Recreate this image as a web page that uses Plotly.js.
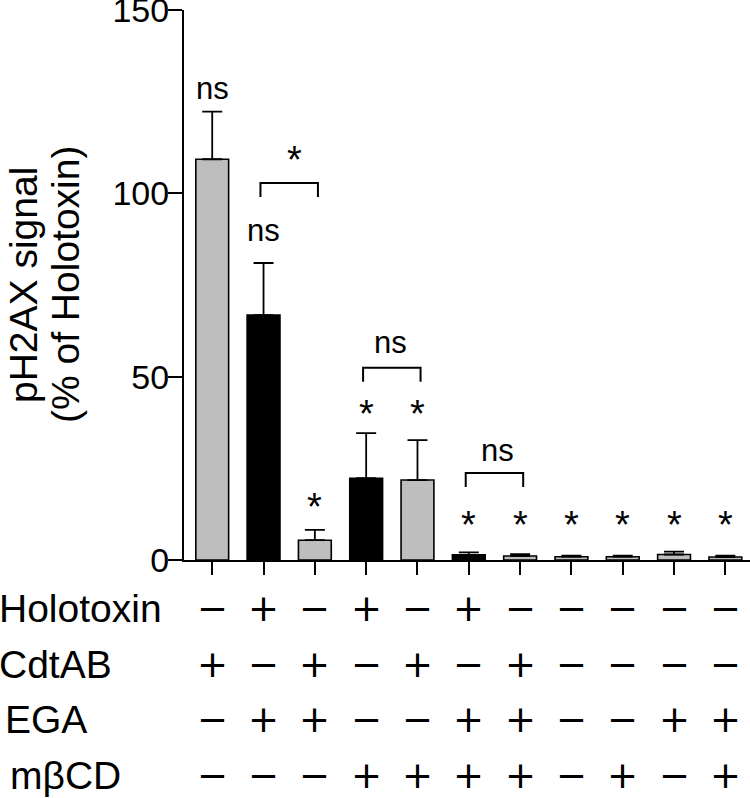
<!DOCTYPE html>
<html>
<head>
<meta charset="utf-8">
<script src="https://cdn.plot.ly/plotly-3.0.1.min.js"></script>
<style>
  html, body { margin: 0; padding: 0; background: #fff; }
  #chart { width: 750px; height: 798px; }
</style>
</head>
<body>
<div id="chart"></div>
<script>
// treatment table under the bars
var rowNames = ['Holotoxin', 'CdtAB', 'EGA', 'mβCD'];
var holotoxin = ['−', '+', '−', '+', '−', '+', '−', '−', '−', '−', '−'];
var cdtab     = ['+', '−', '+', '−', '+', '−', '+', '−', '−', '−', '−'];
var ega       = ['−', '+', '+', '−', '−', '+', '+', '−', '−', '+', '+'];
var mbcd      = ['−', '−', '−', '+', '+', '+', '+', '−', '+', '−', '+'];

// pH2AX signal, % of holotoxin (mean and upper error)
var meanSignal = [109.3, 66.8, 5.4, 22.3, 21.8, 1.4, 1.1, 0.9, 0.9, 1.5, 0.8];
var errSignal  = [13.0, 14.2, 2.8, 12.3, 10.9, 0.7, 0.5, 0.3, 0.3, 0.8, 0.4];

// significance labels
var barLabels  = ['ns', 'ns', '*', '*', '*', '*', '*', '*', '*', '*', '*'];
var pairs      = [[1, 2], [3, 4], [5, 6]];
var pairLabels = ['*', 'ns', 'ns'];

var FONT = '"Liberation Sans", Arial, Helvetica, sans-serif';
var SIGN_FONT = '"DejaVu Sans", sans-serif';
var GRAY = '#bebebe';

var xs = meanSignal.map(function (v, i) { return i; });
var colors = holotoxin.map(function (s) { return s === '+' ? '#000000' : GRAY; });

var trace = {
    type: 'bar',
    x: xs,
    y: meanSignal,
    width: 0.64,
    marker: { color: colors, line: { color: '#000', width: 1.6 } },
    error_y: {
        type: 'data',
        symmetric: false,
        array: errSignal,
        arrayminus: errSignal.map(function () { return 0; }),
        color: '#000',
        thickness: 1.8,
        width: 10
    },
    hoverinfo: 'none'
};

// where the labels sit (data units, y axis)
var barLabelY  = [128.7, 90.0, 16.4, 41.7, 41.7, 11.4, 11.4, 11.4, 11.4, 11.4, 11.4];
var pairTopY   = [102.8, 52.4, 23.7];
var pairLabelY = [111.0, 59.2, 30.0];
var pairLabelX = [1.6, 3.47, 5.55];

var annotations = [];
var shapes = [];

function sigText(text, x, y) {
    var star = text === '*';
    return {
        text: text, x: x, y: y, xref: 'x', yref: 'y',
        showarrow: false, xanchor: 'center', yanchor: 'middle',
        yshift: star ? -7 : 0,
        font: { family: FONT, size: star ? 38 : 31, color: '#000' }
    };
}

barLabels.forEach(function (t, i) {
    annotations.push(sigText(t, i, barLabelY[i]));
});

pairs.forEach(function (p, k) {
    var top = pairTopY[k];
    var leg = top - 3.8;
    shapes.push({
        type: 'path', xref: 'x', yref: 'y',
        path: 'M ' + (p[0] - 0.06) + ',' + leg + ' L ' + (p[0] - 0.06) + ',' + top +
              ' L ' + (p[1] + 0.06) + ',' + top + ' L ' + (p[1] + 0.06) + ',' + leg,
        line: { color: '#000', width: 2 }
    });
    annotations.push(sigText(pairLabels[k], pairLabelX[k], pairLabelY[k]));
});

// y axis title, two lines
annotations.push({
    text: 'pH2AX signal', xref: 'paper', yref: 'paper', x: 0, y: 0.5,
    xshift: -161, textangle: -90, showarrow: false,
    xanchor: 'center', yanchor: 'middle', borderpad: 0,
    font: { family: FONT, size: 39, color: '#000' }
});
annotations.push({
    text: '(% of Holotoxin)', xref: 'paper', yref: 'paper', x: 0, y: 0.5,
    xshift: -119, textangle: -90, showarrow: false,
    xanchor: 'center', yanchor: 'middle', borderpad: 0,
    font: { family: FONT, size: 39, color: '#000' }
});

// treatment table
var rows = [holotoxin, cdtab, ega, mbcd];
var rowShift = [-48, -104, -159, -215];
var nameShift = [-186, -186, -180, -175];
rows.forEach(function (row, r) {
    annotations.push({
        text: rowNames[r], xref: 'paper', yref: 'paper', x: 0, y: 0,
        xshift: nameShift[r], yshift: rowShift[r], showarrow: false,
        xanchor: 'left', yanchor: 'middle', borderpad: 0,
        font: { family: FONT, size: 39, color: '#000' }
    });
    row.forEach(function (s, i) {
        annotations.push({
            text: s, xref: 'x', yref: 'paper', x: i, y: 0,
            yshift: rowShift[r], showarrow: false,
            xanchor: 'center', yanchor: 'middle', borderpad: 0,
            font: { family: SIGN_FONT, size: 37, color: '#000' }
        });
    });
});

var layout = {
    width: 750,
    height: 798,
    margin: { l: 184, r: 0, t: 10, b: 238, pad: 0 },
    paper_bgcolor: '#fff',
    plot_bgcolor: '#fff',
    showlegend: false,
    font: { family: FONT, color: '#000' },
    xaxis: {
        range: [-0.55, 10.48],
        showgrid: false,
        zeroline: false,
        showline: true,
        linecolor: '#000',
        linewidth: 2,
        ticks: 'outside',
        ticklen: 13,
        tickwidth: 2,
        tickcolor: '#000',
        tickvals: xs,
        showticklabels: false,
        fixedrange: true
    },
    yaxis: {
        range: [0, 150],
        tickvals: [0, 50, 100, 150],
        showgrid: false,
        zeroline: false,
        showline: true,
        linecolor: '#000',
        linewidth: 2,
        ticks: 'outside',
        ticklen: 14,
        tickwidth: 2,
        tickcolor: '#000',
        ticklabeloverflow: 'allow',
        ticklabelstandoff: -8,
        tickfont: { family: FONT, size: 34, color: '#000' },
        fixedrange: true
    },
    annotations: annotations,
    shapes: shapes
};

Plotly.newPlot('chart', [trace], layout, { displayModeBar: false, staticPlot: true });
</script>
</body>
</html>
